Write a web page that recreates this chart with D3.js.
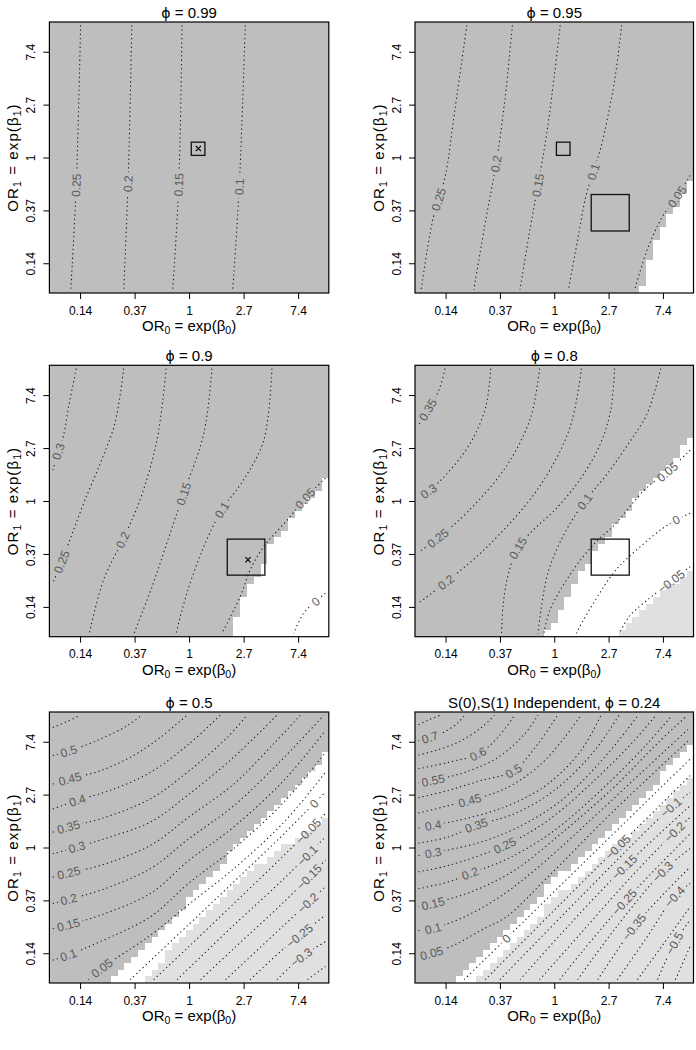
<!DOCTYPE html>
<html lang="en">
<head>
<meta charset="UTF-8">
<title>Contour panels</title>
<script src="https://d3js.org/d3.v7.min.js"></script>
<style>
  body { margin: 0; background: #ffffff; }
  svg { display: block; font-family: "Liberation Sans", Arial, Helvetica, sans-serif; }
  .lev { font-size: 12px; fill: #5a5a5a; }
</style>
</head>
<body>
<script>
// axes are log odds ratios, labelled with the odds ratio
const betaTicks = [-2, -1, 0, 1, 2];
const orLabels = ["0.14", "0.37", "1", "2.7", "7.4"];

const titlePrefix = ["", "", "", "", "", "S(0),S(1) Independent, "];
const phiValues = ["0.99", "0.95", "0.9", "0.8", "0.5", "0.24"];

// image cells: 41 columns of 0.125 on [-2.5, 2.5]
// open = cells from the bottom that are not dark grey, light = cells from the bottom that are light grey
function fromCol(first, rows) { return d3.range(first).map(() => 0).concat(rows); }
const open1 = fromCol(41, []);
const open2 = fromCol(33, [1, 5, 8, 10, 12, 13, 15, 17]);
const open3 = fromCol(27, [3, 6, 8, 9, 11, 14, 15, 16, 18, 19, 20, 21, 22, 24]);
const open4 = fromCol(19, [1, 2, 4, 6, 8, 10, 11, 13, 14, 15, 17, 18, 19, 21, 22, 23, 24, 25, 26, 27, 29, 30]);
const open5 = fromCol(9, [1, 2, 3, 4, 5, 6, 7, 8, 9, 10, 11, 13, 14, 15, 16, 17, 18, 20, 21, 22, 23, 24, 25, 26, 27, 28, 29, 30, 31, 32, 33, 35]);
const open6 = fromCol(6, [1, 2, 3, 4, 5, 6, 7, 8, 9, 10, 11, 12, 13, 15, 16, 17, 17, 18, 19, 20, 21, 22, 23, 24, 25, 26, 27, 28, 29, 30, 32, 33, 34, 35, 36]);
const light1 = fromCol(41, []);
const light2 = fromCol(41, []);
const light3 = fromCol(41, []);
const light4 = fromCol(30, [1, 2, 3, 4, 5, 6, 7, 8, 8, 9, 10]);
const light5 = fromCol(14, [1, 2, 3, 5, 6, 7, 8, 9, 10, 11, 12, 13, 14, 15, 16, 17, 18, 18, 19, 20, 21, 21, 22, 23, 23, 24, 25]);
const light6 = fromCol(9, [1, 2, 3, 4, 5, 6, 7, 8, 9, 10, 12, 13, 14, 14, 15, 16, 17, 18, 19, 20, 21, 22, 22, 23, 24, 25, 26, 27, 28, 29, 30, 31]);

// contour lines, points are [beta0, beta1]; "at" is where the label sits
const cont1 = [
  {lv: "0.25", p: [[-1.99, 2.5], [-2.07, -0.52], [-2.17, -2.5]], at: [-2.07, -0.52]},
  {lv: "0.2", p: [[-1.05, 2.5], [-1.12, -0.5], [-1.20, -2.5]], at: [-1.12, -0.5]},
  {lv: "0.15", p: [[-0.13, 2.5], [-0.19, -0.52], [-0.30, -2.5]], at: [-0.19, -0.52]},
  {lv: "0.1", p: [[1.03, 2.5], [0.92, -0.55], [0.80, -2.5]], at: [0.92, -0.55]}
];
const cont2 = [
  {lv: "0.25", p: [[-1.61, 2.5], [-1.83, 0.89], [-2.01, -0.37], [-2.23, -1.15], [-2.45, -2.5]], at: [-2.15, -0.78]},
  {lv: "0.2", p: [[-0.77, 2.5], [-0.91, 1.08], [-1.07, -0.12], [-1.25, -1.12], [-1.48, -2.5]], at: [-1.07, -0.12]},
  {lv: "0.15", p: [[0.11, 2.5], [-0.12, 0.58], [-0.30, -0.52], [-0.46, -1.44], [-0.63, -2.5]], at: [-0.30, -0.52]},
  {lv: "0.1", p: [[1.24, 2.5], [1.10, 1.39], [0.86, 0.20], [0.72, -0.27], [0.58, -0.74], [0.43, -1.56], [0.26, -2.5]], at: [0.72, -0.27]},
  {lv: "0.05", p: [[2.5, -0.34], [2.26, -0.74], [1.99, -1.12], [1.71, -1.75], [1.48, -2.5]], at: [2.26, -0.74]}
];
const cont3 = [
  {lv: "0.3", p: [[-2.07, 2.5], [-2.21, 1.78], [-2.31, 1.21], [-2.40, 0.93], [-2.5, 0.585]], at: [-2.40, 0.93]},
  {lv: "0.25", p: [[-1.20, 2.5], [-1.36, 1.47], [-1.63, 0.71], [-1.91, 0.02], [-2.12, -0.55], [-2.34, -1.15], [-2.5, -1.55]], at: [-2.34, -1.15]},
  {lv: "0.2", p: [[-0.42, 2.5], [-0.59, 1.15], [-0.90, 0.02], [-1.22, -0.74], [-1.57, -1.49], [-1.83, -2.5]], at: [-1.22, -0.74]},
  {lv: "0.15", p: [[0.42, 2.5], [0.27, 1.28], [-0.10, 0.14], [-0.41, -0.80], [-0.68, -1.62], [-1.01, -2.5]], at: [-0.10, 0.14]},
  {lv: "0.1", p: [[1.52, 2.5], [1.37, 1.15], [1.0, 0.40], [0.60, -0.17], [0.27, -0.86], [-0.04, -1.74], [-0.24, -2.5]], at: [0.60, -0.17]},
  {lv: "0.05", p: [[2.5, 0.43], [2.13, 0.05], [1.80, -0.36], [1.37, -0.86], [1.12, -1.30], [0.94, -1.80], [0.60, -2.5]], at: [2.13, 0.05]},
  {lv: "0", p: [[2.5, -1.74], [2.32, -1.90], [2.10, -2.12], [1.92, -2.5]], at: [2.32, -1.90]}
];
const cont4 = [
  {lv: "0.35", p: [[-2.01, 2.5], [-2.12, 2.10], [-2.33, 1.72], [-2.5, 1.43]], at: [-2.33, 1.72]},
  {lv: "0.3", p: [[-1.17, 2.5], [-1.26, 1.78], [-1.54, 1.10], [-1.98, 0.51], [-2.31, 0.19], [-2.5, 0.08]], at: [-2.31, 0.19]},
  {lv: "0.25", p: [[-0.27, 2.5], [-0.44, 1.56], [-0.88, 0.66], [-1.59, -0.20], [-2.14, -0.70], [-2.5, -0.97]], at: [-2.14, -0.70]},
  {lv: "0.2", p: [[0.50, 2.5], [0.28, 1.36], [-0.30, 0.23], [-1.25, -0.88], [-1.99, -1.53], [-2.5, -1.93]], at: [-1.99, -1.53]},
  {lv: "0.15", p: [[1.11, 2.5], [1.04, 1.72], [0.84, 1.06], [0.47, 0.40], [0.01, -0.17], [-0.39, -0.55], [-0.67, -0.89], [-0.85, -1.40], [-0.94, -1.96], [-0.97, -2.5]], at: [-0.67, -0.89]},
  {lv: "0.1", p: [[1.96, 2.5], [1.71, 1.65], [1.41, 1.15], [0.98, 0.52], [0.56, -0.01], [0.19, -0.61], [-0.12, -1.37], [-0.30, -2.5]], at: [0.56, -0.01]},
  {lv: "0.05", p: [[2.5, 0.96], [2.08, 0.55], [1.69, 0.24], [1.08, -0.48], [0.77, -0.77], [0.35, -1.30], [-0.08, -2.06], [-0.19, -2.5]], at: [2.08, 0.55]},
  {lv: "0", p: [[2.5, -0.23], [2.24, -0.36], [1.99, -0.52], [1.38, -1.05], [1.08, -1.37], [0.47, -2.37], [0.41, -2.5]], at: [2.24, -0.36]},
  {lv: "\u22120.05", p: [[2.5, -1.24], [2.15, -1.52], [1.87, -1.74], [1.38, -2.18], [1.20, -2.5]], at: [2.15, -1.52]}
];
const cont5 = [
  {lv: "0.55", p: [[-2.5, 2.27], [-2.24, 2.38], [-2.0, 2.5]]},
  {lv: "0.5", p: [[-2.5, 1.74], [-2.21, 1.82], [-1.63, 2.05], [-1.14, 2.30], [-0.87, 2.5]], at: [-2.21, 1.82]},
  {lv: "0.45", p: [[-2.5, 1.20], [-2.18, 1.30], [-1.63, 1.45], [-1.02, 1.74], [-0.53, 2.08], [-0.04, 2.5]], at: [-2.18, 1.30]},
  {lv: "0.4", p: [[-2.5, 0.73], [-2.05, 0.89], [-1.45, 1.08], [-0.71, 1.42], [0, 1.96], [0.57, 2.5]], at: [-2.05, 0.89]},
  {lv: "0.35", p: [[-2.5, 0.29], [-2.21, 0.39], [-1.63, 0.54], [-0.71, 0.92], [0, 1.45], [0.70, 2.08], [1.06, 2.5]], at: [-2.21, 0.39]},
  {lv: "0.3", p: [[-2.5, -0.12], [-2.06, 0.01], [-1.45, 0.20], [-0.71, 0.48], [0, 1.01], [0.82, 1.71], [1.61, 2.5]], at: [-2.06, 0.01]},
  {lv: "0.25", p: [[-2.5, -0.56], [-2.21, -0.48], [-1.63, -0.34], [-0.71, 0.04], [0, 0.58], [0.82, 1.20], [1.55, 1.96], [2.04, 2.5]], at: [-2.21, -0.48]},
  {lv: "0.2", p: [[-2.5, -1.06], [-2.21, -0.98], [-1.63, -0.81], [-0.71, -0.40], [0, 0.17], [0.82, 0.79], [1.74, 1.70], [2.47, 2.5]], at: [-2.21, -0.98]},
  {lv: "0.15", p: [[-2.5, -1.53], [-2.21, -1.46], [-1.63, -1.28], [-0.71, -0.87], [0, -0.24], [0.82, 0.39], [1.74, 1.27], [2.5, 2.21]], at: [-2.21, -1.46]},
  {lv: "0.1", p: [[-2.5, -2.13], [-2.21, -2.03], [-1.63, -1.78], [-0.71, -1.31], [0, -0.67], [0.82, -0.02], [1.74, 0.86], [2.5, 1.80]], at: [-2.21, -2.03]},
  {lv: "0.05", p: [[-1.85, -2.5], [-1.60, -2.28], [-0.71, -1.66], [0, -1.07], [0.82, -0.40], [1.74, 0.48], [2.5, 1.42]], at: [-1.60, -2.28]},
  {lv: "0", p: [[-1.08, -2.5], [0, -1.45], [0.82, -0.65], [1.74, 0.26], [2.5, 1.05]], at: [2.23, 0.89]},
  {lv: "\u22120.05", p: [[-0.65, -2.5], [0, -1.87], [0.82, -1.06], [1.74, -0.15], [2.5, 0.64]], at: [2.14, 0.36]},
  {lv: "\u22120.1", p: [[-0.22, -2.5], [0.82, -1.47], [1.74, -0.59], [2.5, 0.20]], at: [2.10, -0.08]},
  {lv: "\u22120.15", p: [[0.21, -2.5], [0.82, -1.91], [1.74, -1.03], [2.5, -0.24]], at: [2.14, -0.49]},
  {lv: "\u22120.2", p: [[0.67, -2.5], [1.74, -1.47], [2.5, -0.74]], at: [2.10, -0.96]},
  {lv: "\u22120.25", p: [[1.12, -2.5], [1.74, -1.91], [2.5, -1.28]], at: [1.92, -1.53]},
  {lv: "\u22120.3", p: [[1.61, -2.5], [2.04, -2.09], [2.5, -1.78]], at: [2.04, -2.06]},
  {lv: "\u22120.35", p: [[2.17, -2.5], [2.5, -2.25]]}
];
const cont6 = [
  {lv: "0.75", p: [[-2.5, 2.32], [-2.32, 2.41], [-2.10, 2.5]]},
  {lv: "0.7", p: [[-2.5, 2.02], [-2.29, 2.08], [-2.01, 2.19], [-1.77, 2.36], [-1.65, 2.5]], at: [-2.29, 2.08]},
  {lv: "0.65", p: [[-2.5, 1.75], [-2.20, 1.83], [-1.77, 1.99], [-1.34, 2.27], [-1.10, 2.5]]},
  {lv: "0.6", p: [[-2.5, 1.49], [-1.95, 1.61], [-1.40, 1.77], [-1.04, 2.08], [-0.73, 2.5]], at: [-1.40, 1.77]},
  {lv: "0.55", p: [[-2.5, 1.22], [-2.23, 1.27], [-1.65, 1.42], [-1.04, 1.70], [-0.55, 2.14], [-0.30, 2.5]], at: [-2.23, 1.27]},
  {lv: "0.5", p: [[-2.5, 0.94], [-1.95, 1.08], [-1.34, 1.27], [-0.75, 1.45], [-0.30, 1.96], [0.06, 2.5]], at: [-0.75, 1.45]},
  {lv: "0.45", p: [[-2.5, 0.65], [-1.95, 0.79], [-1.55, 0.89], [-0.85, 1.14], [-0.24, 1.58], [0.19, 2.08], [0.49, 2.5]], at: [-1.55, 0.89]},
  {lv: "0.4", p: [[-2.5, 0.37], [-2.23, 0.42], [-1.65, 0.54], [-0.85, 0.79], [-0.12, 1.20], [0.49, 1.83], [0.86, 2.5]], at: [-2.23, 0.42]},
  {lv: "0.35", p: [[-2.5, 0.08], [-1.95, 0.20], [-1.43, 0.42], [-0.73, 0.64], [0.0, 1.08], [0.74, 1.83], [1.19, 2.5]], at: [-1.43, 0.42]},
  {lv: "0.3", p: [[-2.5, -0.15], [-2.23, -0.10], [-1.46, 0.07], [-0.73, 0.35], [0.13, 0.89], [0.98, 1.77], [1.54, 2.5]], at: [-2.23, -0.10]},
  {lv: "0.25", p: [[-2.5, -0.46], [-1.95, -0.34], [-0.91, 0.04], [-0.12, 0.51], [0.74, 1.27], [1.47, 2.02], [1.87, 2.5]], at: [-0.91, 0.04]},
  {lv: "0.2", p: [[-2.5, -0.78], [-1.95, -0.65], [-1.55, -0.49], [-0.85, -0.21], [0.0, 0.32], [0.98, 1.20], [1.71, 1.96], [2.17, 2.5]], at: [-1.55, -0.49]},
  {lv: "0.15", p: [[-2.5, -1.12], [-2.23, -1.06], [-1.46, -0.81], [-0.73, -0.43], [0.19, 0.32], [1.10, 1.14], [1.89, 1.96], [2.45, 2.5]], at: [-2.23, -1.06]},
  {lv: "0.1", p: [[-2.5, -1.57], [-2.23, -1.53], [-1.65, -1.31], [-1.04, -0.96], [-0.36, -0.43], [0.49, 0.35], [1.41, 1.23], [2.5, 2.27]], at: [-2.23, -1.53]},
  {lv: "0.05", p: [[-2.5, -2.05], [-2.26, -2.0], [-1.83, -1.84], [-1.34, -1.56], [-0.88, -1.31], [-0.12, -0.56], [1.10, 0.70], [2.5, 2.05]], at: [-2.26, -2.0]},
  {lv: "0", p: [[-1.66, -2.5], [-0.88, -1.72], [0.49, -0.34], [2.5, 1.67]], at: [-0.88, -1.72]},
  {lv: "\u22120.05", p: [[-1.27, -2.5], [-0.12, -1.31], [1.17, 0.01], [2.5, 1.36]], at: [1.17, 0.01]},
  {lv: "\u22120.1", p: [[-1.0, -2.5], [0.49, -0.93], [2.15, 0.76], [2.5, 1.04]], at: [2.15, 0.76]},
  {lv: "\u22120.15", p: [[-0.63, -2.5], [0.19, -1.56], [1.29, -0.37], [2.5, 0.79]], at: [1.29, -0.37]},
  {lv: "\u22120.2", p: [[-0.27, -2.5], [0.49, -1.62], [1.41, -0.56], [2.21, 0.29], [2.5, 0.57]], at: [2.21, 0.29]},
  {lv: "\u22120.25", p: [[0.10, -2.5], [0.49, -2.0], [1.29, -1.03], [1.90, -0.37], [2.5, 0.26]], at: [1.29, -1.03]},
  {lv: "\u22120.3", p: [[0.43, -2.5], [1.10, -1.56], [1.99, -0.46], [2.5, -0.02]], at: [1.99, -0.46]},
  {lv: "\u22120.35", p: [[0.80, -2.5], [1.47, -1.50], [2.02, -0.87], [2.5, -0.37]], at: [1.47, -1.50]},
  {lv: "\u22120.4", p: [[1.16, -2.5], [1.71, -1.69], [2.21, -0.93], [2.5, -0.68]], at: [2.21, -0.93]},
  {lv: "\u22120.45", p: [[1.53, -2.5], [2.02, -1.81], [2.5, -1.12]]},
  {lv: "\u22120.5", p: [[1.90, -2.5], [2.21, -1.81], [2.5, -1.37]], at: [2.21, -1.81]},
  {lv: "\u22120.55", p: [[2.23, -2.5], [2.5, -1.87]]}
];

// reference squares [b0 min, b0 max, b1 min, b1 max] and x marks
const boxes = [
  [[0.04, 0.29, 0.04, 0.29]],
  [[0.04, 0.29, 0.04, 0.29], [0.68, 1.38, -1.39, -0.70]],
  [[0.70, 1.39, -1.40, -0.72]],
  [[0.68, 1.38, -1.40, -0.72]],
  [],
  []
];
const marks = [[[0.17, 0.17]], [], [[1.08, -1.11]], [], [], []];

const opens = [open1, open2, open3, open4, open5, open6];
const lights = [light1, light2, light3, light4, light5, light6];
const conts = [cont1, cont2, cont3, cont4, cont5, cont6];

const W = 696, H = 1050;
const lim = 2.5625, cellW = 0.125, nCells = 41;
const colX = [[49.4, 328.8], [415, 693.5]];
const rowY = [[22, 293], [365.3, 636.7], [712, 983]];
const DARK = "#bebebe", LIGHT = "#e0e0e0";

const svg = d3.select("body").append("svg").attr("width", W).attr("height", H);
svg.append("rect").attr("width", W).attr("height", H).attr("fill", "#fff");
const defs = svg.append("defs");

phiValues.forEach((phi, k) => {
  const [x0, x1] = colX[k % 2];
  const [y0, y1] = rowY[Math.floor(k / 2)];
  const x = d3.scaleLinear().domain([-lim, lim]).range([x0, x1]);
  const y = d3.scaleLinear().domain([-lim, lim]).range([y1, y0]);
  const g = svg.append("g");

  defs.append("clipPath").attr("id", "clip" + k)
    .append("rect").attr("x", x0).attr("y", y0).attr("width", x1 - x0).attr("height", y1 - y0);

  g.append("rect").attr("x", x0).attr("y", y0).attr("width", x1 - x0).attr("height", y1 - y0).attr("fill", DARK);

  const cols = d3.range(nCells);
  const cellX = i => x(-lim + i * cellW);
  [[opens[k], "#fff"], [lights[k], LIGHT]].forEach(([rows, fill]) => {
    g.append("g").attr("shape-rendering", "crispEdges")
      .selectAll("rect").data(cols.filter(i => rows[i] > 0)).join("rect")
      .attr("x", cellX)
      .attr("width", i => cellX(i + 1) - cellX(i))
      .attr("y", i => y(-lim + rows[i] * cellW))
      .attr("height", i => y(-lim) - y(-lim + rows[i] * cellW))
      .attr("fill", fill);
  });

  // contours with gaps under the labels
  const mask = defs.append("mask").attr("id", "gap" + k)
    .attr("maskUnits", "userSpaceOnUse").attr("x", 0).attr("y", 0).attr("width", W).attr("height", H);
  mask.append("rect").attr("width", W).attr("height", H).attr("fill", "#fff");
  const cg = g.append("g").attr("clip-path", `url(#clip${k})`);
  const lg = cg.append("g").attr("mask", `url(#gap${k})`);
  const line = d3.line().x(d => x(d[0])).y(d => y(d[1])).curve(d3.curveCatmullRom.alpha(0.5));

  conts[k].forEach(c => {
    const path = lg.append("path").attr("d", line(c.p))
      .attr("fill", "none").attr("stroke", "#1a1a1a").attr("stroke-width", 1.05)
      .attr("stroke-dasharray", "1.3,3");
    if (!c.at) return;
    const node = path.node(), len = node.getTotalLength();
    const tx = x(c.at[0]), ty = y(c.at[1]);
    let best = 0, bd = Infinity;
    for (let s = 0; s <= len; s += 0.5) {
      const q = node.getPointAtLength(s);
      const d = (q.x - tx) ** 2 + (q.y - ty) ** 2;
      if (d < bd) { bd = d; best = s; }
    }
    const p = node.getPointAtLength(best);
    const pa = node.getPointAtLength(Math.max(0, best - 6));
    const pb = node.getPointAtLength(Math.min(len, best + 6));
    let ang = Math.atan2(pb.y - pa.y, pb.x - pa.x) * 180 / Math.PI;
    if (ang > 90) ang -= 180;
    if (ang < -90) ang += 180;
    const tf = `translate(${p.x},${p.y}) rotate(${ang})`;
    const t = cg.append("text").attr("class", "lev").attr("transform", tf)
      .attr("text-anchor", "middle").attr("dy", "0.36em").text(c.lv);
    const tw = t.node().getComputedTextLength();
    mask.append("rect").attr("transform", tf)
      .attr("x", -tw / 2 - 3).attr("y", -5.5).attr("width", tw + 6).attr("height", 11).attr("fill", "#000");
  });

  boxes[k].forEach(b => {
    g.append("rect").attr("x", x(b[0])).attr("y", y(b[3]))
      .attr("width", x(b[1]) - x(b[0])).attr("height", y(b[2]) - y(b[3]))
      .attr("fill", "none").attr("stroke", "#111").attr("stroke-width", 1.3);
  });
  marks[k].forEach(m => {
    const cx = x(m[0]), cy = y(m[1]), r = 2.6;
    g.append("path").attr("d", `M${cx - r},${cy - r}L${cx + r},${cy + r}M${cx - r},${cy + r}L${cx + r},${cy - r}`)
      .attr("stroke", "#000").attr("stroke-width", 1.2);
  });

  g.append("rect").attr("x", x0).attr("y", y0).attr("width", x1 - x0).attr("height", y1 - y0)
    .attr("fill", "none").attr("stroke", "#000").attr("stroke-width", 1.2);

  // axes
  const xa = g.append("g").attr("transform", `translate(0,${y1})`)
    .call(d3.axisBottom(x).tickValues(betaTicks).tickFormat((d, i) => orLabels[i]).tickSize(6).tickSizeOuter(0));
  xa.select(".domain").remove();
  xa.selectAll(".tick line").attr("stroke", "#000");
  xa.selectAll("text").attr("y", 21.5).attr("dy", null).attr("font-size", 12)
    .attr("font-family", "Liberation Sans, Arial, sans-serif").attr("fill", "#000");

  const ya = g.append("g").attr("transform", `translate(${x0},0)`)
    .call(d3.axisLeft(y).tickValues(betaTicks).tickFormat((d, i) => orLabels[i]).tickSize(6).tickSizeOuter(0));
  ya.select(".domain").remove();
  ya.selectAll(".tick line").attr("stroke", "#000");
  ya.selectAll("text").attr("x", null).attr("dy", null)
    .attr("transform", "translate(-14.5,0) rotate(-90)")
    .attr("text-anchor", "middle").attr("font-size", 12)
    .attr("font-family", "Liberation Sans, Arial, sans-serif").attr("fill", "#000");

  // titles
  const title = g.append("text").attr("x", (x0 + x1) / 2).attr("y", y0 - 4.5)
    .attr("text-anchor", "middle").attr("font-size", 15);
  title.append("tspan").text(titlePrefix[k]);
  title.append("tspan").attr("font-family", "DejaVu Sans").attr("font-size", 14).text("\u03d5");
  title.append("tspan").text(" = " + phi);

  const xl = g.append("text").attr("x", (x0 + x1) / 2).attr("y", y1 + 38)
    .attr("text-anchor", "middle").attr("font-size", 15);
  xl.append("tspan").text("OR");
  xl.append("tspan").attr("font-size", 10.5).attr("dy", 3).text("0");
  xl.append("tspan").attr("dy", -3).text(" = exp(\u03b2");
  xl.append("tspan").attr("font-size", 10.5).attr("dy", 3).text("0");
  xl.append("tspan").attr("dy", -3).text(")");

  const yl = g.append("text")
    .attr("transform", `translate(${x0 - 31},${(y0 + y1) / 2}) rotate(-90)`)
    .attr("text-anchor", "middle").attr("font-size", 15).attr("letter-spacing", 1.1);
  yl.append("tspan").text("OR");
  yl.append("tspan").attr("font-size", 10.5).attr("dy", 3).text("1");
  yl.append("tspan").attr("dy", -3).text(" = exp(\u03b2");
  yl.append("tspan").attr("font-size", 10.5).attr("dy", 3).text("1");
  yl.append("tspan").attr("dy", -3).text(")");
});
</script>
</body>
</html>
